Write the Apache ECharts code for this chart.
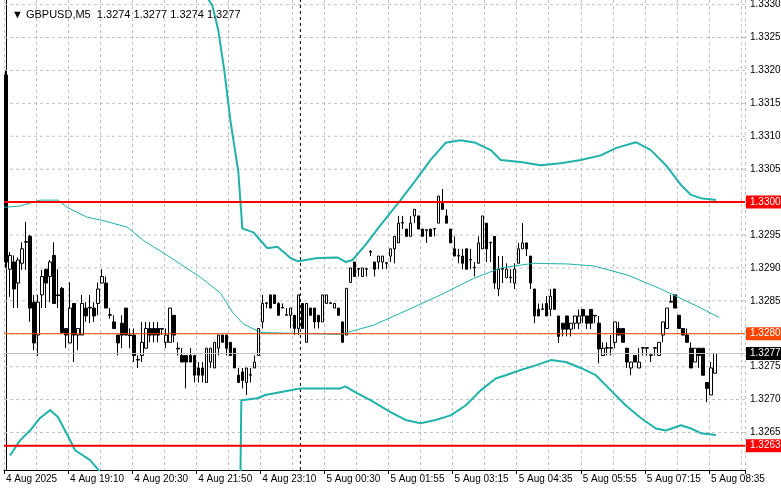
<!DOCTYPE html>
<html><head><meta charset="utf-8">
<script src="https://cdn.jsdelivr.net/npm/echarts@6/dist/echarts.min.js"></script>
<style>html,body{margin:0;padding:0;background:#fff}#c{width:781px;height:489px}</style>
</head><body><div id="c"></div>
<script>
// Candles: [open, close, low, high]
const candles = [
[1.33193,1.32909,1.32900,1.33200],[1.32898,1.32919,1.32856,1.32924],[1.32909,1.32868,1.32839,1.32919],[1.32877,1.32912,1.32839,1.32916],
[1.32907,1.32929,1.32897,1.32939],[1.32939,1.32940,1.32897,1.32970],[1.32948,1.32839,1.32818,1.32950],[1.32848,1.32786,1.32775,1.32859],
[1.32798,1.32848,1.32766,1.32859],[1.32859,1.32887,1.32839,1.32897],[1.32898,1.32877,1.32839,1.32898],[1.32887,1.32909,1.32848,1.32912],
[1.32919,1.32846,1.32846,1.32939],[1.32859,1.32858,1.32839,1.32898],[1.32869,1.32802,1.32800,1.32871],[1.32808,1.32798,1.32778,1.32808],
[1.32786,1.32839,1.32786,1.32878],[1.32846,1.32798,1.32757,1.32846],[1.32798,1.32808,1.32775,1.32808],[1.32798,1.32846,1.32798,1.32859],
[1.32839,1.32827,1.32818,1.32848],[1.32839,1.32840,1.32816,1.32859],[1.32839,1.32827,1.32818,1.32848],[1.32846,1.32868,1.32828,1.32878],
[1.32877,1.32887,1.32877,1.32898],[1.32877,1.32839,1.32839,1.32887],[1.32828,1.32829,1.32823,1.32839],[1.32818,1.32808,1.32808,1.32828],
[1.32798,1.32786,1.32767,1.32798],[1.32816,1.32798,1.32778,1.32828],[1.32839,1.32798,1.32798,1.32839],[1.32798,1.32797,1.32778,1.32808],
[1.32798,1.32767,1.32757,1.32808],[1.32760,1.32761,1.32748,1.32767],[1.32767,1.32787,1.32757,1.32818],[1.32778,1.32808,1.32778,1.32818],
[1.32808,1.32798,1.32787,1.32818],[1.32808,1.32798,1.32787,1.32818],[1.32808,1.32798,1.32787,1.32818],[1.32808,1.32807,1.32798,1.32808],
[1.32787,1.32798,1.32778,1.32808],[1.32787,1.32839,1.32787,1.32839],[1.32828,1.32798,1.32787,1.32828],[1.32778,1.32777,1.32767,1.32787],
[1.32767,1.32757,1.32757,1.32778],[1.32767,1.32757,1.32717,1.32767],[1.32767,1.32757,1.32757,1.32778],[1.32767,1.32737,1.32726,1.32767],
[1.32748,1.32737,1.32726,1.32757],[1.32748,1.32737,1.32726,1.32757],[1.32726,1.32778,1.32726,1.32778],[1.32757,1.32778,1.32748,1.32778],
[1.32748,1.32787,1.32748,1.32787],[1.32778,1.32798,1.32767,1.32798],[1.32798,1.32787,1.32787,1.32798],[1.32798,1.32778,1.32767,1.32798],
[1.32787,1.32767,1.32767,1.32787],[1.32778,1.32748,1.32748,1.32778],[1.32737,1.32726,1.32726,1.32748],[1.32742,1.32729,1.32717,1.32748],
[1.32726,1.32748,1.32707,1.32748],[1.32737,1.32738,1.32726,1.32748],[1.32748,1.32757,1.32748,1.32767],[1.32767,1.32808,1.32767,1.32808],
[1.32818,1.32846,1.32808,1.32859],[1.32846,1.32847,1.32839,1.32848],[1.32859,1.32839,1.32839,1.32859],[1.32859,1.32846,1.32846,1.32859],
[1.32846,1.32828,1.32828,1.32848],[1.32839,1.32840,1.32839,1.32846],[1.32828,1.32829,1.32828,1.32839],[1.32828,1.32839,1.32808,1.32839],
[1.32828,1.32808,1.32798,1.32828],[1.32808,1.32859,1.32798,1.32859],[1.32846,1.32808,1.32808,1.32846],[1.32787,1.32846,1.32787,1.32846],
[1.32839,1.32828,1.32828,1.32839],[1.32839,1.32818,1.32808,1.32839],[1.32828,1.32818,1.32808,1.32828],[1.32818,1.32859,1.32818,1.32859],
[1.32846,1.32859,1.32846,1.32859],[1.32846,1.32847,1.32846,1.32848],[1.32839,1.32846,1.32839,1.32846],[1.32839,1.32828,1.32828,1.32839],
[1.32818,1.32787,1.32787,1.32818],[1.32798,1.32869,1.32798,1.32869],[1.32878,1.32900,1.32878,1.32900],[1.32909,1.32887,1.32887,1.32909],
[1.32898,1.32899,1.32887,1.32898],[1.32887,1.32900,1.32887,1.32900],[1.32898,1.32899,1.32887,1.32900],[1.32924,1.32925,1.32918,1.32927],
[1.32909,1.32898,1.32887,1.32909],[1.32909,1.32918,1.32898,1.32918],[1.32909,1.32918,1.32898,1.32918],[1.32907,1.32908,1.32898,1.32907],
[1.32918,1.32929,1.32909,1.32929],[1.32929,1.32948,1.32907,1.32948],[1.32938,1.32968,1.32938,1.32979],[1.32968,1.32969,1.32959,1.32979],
[1.32959,1.32948,1.32948,1.32959],[1.32948,1.32968,1.32948,1.32979],[1.32979,1.32989,1.32968,1.32989],[1.32979,1.32959,1.32959,1.32979],
[1.32959,1.32948,1.32948,1.32959],[1.32957,1.32958,1.32938,1.32958],[1.32959,1.32948,1.32948,1.32959],[1.32959,1.32960,1.32948,1.32960],
[1.32968,1.33009,1.32968,1.33009],[1.32998,1.32989,1.32989,1.33020],[1.32979,1.32968,1.32968,1.32989],[1.32959,1.32938,1.32938,1.32959],
[1.32929,1.32918,1.32918,1.32948],[1.32918,1.32919,1.32907,1.32929],[1.32918,1.32907,1.32898,1.32929],[1.32929,1.32898,1.32898,1.32929],
[1.32912,1.32913,1.32898,1.32929],[1.32900,1.32901,1.32887,1.32909],[1.32907,1.32938,1.32907,1.32948],[1.32929,1.32979,1.32929,1.32979],
[1.32968,1.32929,1.32909,1.32968],[1.32938,1.32939,1.32909,1.32939],[1.32948,1.32877,1.32868,1.32948],[1.32868,1.32898,1.32857,1.32918],
[1.32898,1.32899,1.32877,1.32918],[1.32885,1.32898,1.32885,1.32907],[1.32885,1.32886,1.32877,1.32898],[1.32877,1.32898,1.32868,1.32907],
[1.32907,1.32929,1.32907,1.32938],[1.32929,1.32938,1.32929,1.32968],[1.32938,1.32929,1.32918,1.32938],[1.32918,1.32877,1.32868,1.32918],
[1.32868,1.32827,1.32816,1.32868],[1.32837,1.32827,1.32827,1.32846],[1.32837,1.32838,1.32837,1.32846],[1.32846,1.32827,1.32827,1.32857],
[1.32837,1.32857,1.32827,1.32868],[1.32868,1.32837,1.32837,1.32868],[1.32827,1.32796,1.32786,1.32827],[1.32816,1.32807,1.32796,1.32816],
[1.32827,1.32807,1.32796,1.32827],[1.32807,1.32816,1.32796,1.32816],[1.32816,1.32827,1.32807,1.32827],[1.32816,1.32827,1.32807,1.32837],
[1.32837,1.32827,1.32816,1.32837],[1.32827,1.32816,1.32807,1.32827],[1.32837,1.32816,1.32807,1.32837],[1.32827,1.32828,1.32816,1.32828],
[1.32816,1.32777,1.32755,1.32827],[1.32767,1.32778,1.32767,1.32787],[1.32778,1.32779,1.32767,1.32787],[1.32778,1.32779,1.32767,1.32798],
[1.32787,1.32818,1.32778,1.32818],[1.32808,1.32798,1.32798,1.32818],[1.32808,1.32787,1.32787,1.32808],[1.32778,1.32757,1.32748,1.32778],
[1.32748,1.32757,1.32737,1.32757],[1.32767,1.32757,1.32757,1.32767],[1.32748,1.32757,1.32748,1.32778],[1.32778,1.32779,1.32767,1.32779],
[1.32778,1.32779,1.32767,1.32779],[1.32767,1.32768,1.32757,1.32768],[1.32778,1.32779,1.32767,1.32779],[1.32767,1.32787,1.32767,1.32787],
[1.32798,1.32818,1.32787,1.32818],[1.32808,1.32839,1.32808,1.32839],[1.32848,1.32849,1.32848,1.32859],[1.32859,1.32839,1.32839,1.32859],
[1.32828,1.32808,1.32808,1.32828],[1.32808,1.32798,1.32798,1.32808],[1.32798,1.32787,1.32787,1.32808],[1.32778,1.32748,1.32748,1.32787],
[1.32757,1.32778,1.32757,1.32778],[1.32778,1.32767,1.32748,1.32778],[1.32778,1.32737,1.32737,1.32778],[1.32726,1.32717,1.32696,1.32726],
[1.32707,1.32748,1.32707,1.32757],[1.32740,1.32770,1.32740,1.32770]
];
const slots = 185;
const timeLabels = ['4 Aug 2025','4 Aug 19:10','4 Aug 20:30','4 Aug 21:50','4 Aug 23:10','5 Aug 00:30','5 Aug 01:55','5 Aug 03:15','5 Aug 04:35','5 Aug 05:55','5 Aug 07:15','5 Aug 08:35'];
const priceTicks = [1.3265,1.3270,1.3275,1.3280,1.3285,1.3290,1.3295,1.3300,1.3305,1.3310,1.3315,1.3320,1.3325,1.3330];
const upperBand = [[49.75,1.33315],[51.5,1.33299],[53,1.33261],[54.5,1.33200],[56,1.33125],[58,1.33046],[59,1.32960],[61.75,1.32954],[63.5,1.32942],[65.25,1.32930],[67.75,1.32932],[69.75,1.32922],[71,1.32915],[73,1.32910],[77.75,1.32915],[82.75,1.32916],[84.75,1.32909],[86.5,1.32912],[89.75,1.32935],[93.5,1.32965],[98.5,1.33003],[102.25,1.33033],[106,1.33064],[109.75,1.33090],[113.5,1.33094],[117.25,1.33090],[121,1.33079],[123.5,1.33064],[128.5,1.33061],[133.5,1.33056],[138.5,1.33059],[143.5,1.33064],[148.5,1.33071],[152.25,1.33082],[157.25,1.33091],[161,1.33079],[164.75,1.33056],[168.5,1.33026],[171,1.33011],[173.5,1.33006],[177.25,1.33003]];
const middleBand = [[-0.5,1.32992],[3.5,1.32994],[8.5,1.33003],[13,1.33003],[15.25,1.32992],[20.25,1.32977],[23.5,1.32973],[30.25,1.32962],[34.25,1.32942],[40.25,1.32919],[48.5,1.32886],[53.5,1.32862],[56.75,1.32831],[59.25,1.32815],[63.5,1.32802],[69.25,1.32801],[83.5,1.32799],[91.75,1.32813],[100.25,1.32836],[108.5,1.32859],[116.75,1.32884],[123.5,1.32900],[131.75,1.32907],[140.25,1.32906],[146.75,1.32903],[155.25,1.32889],[163.5,1.32868],[173.5,1.32839],[178,1.32825]];
const lowerBandA = [[1,1.32615],[3.5,1.32638],[6,1.32653],[8.5,1.32672],[11,1.32684],[13,1.32673],[15,1.32650],[17.25,1.32623],[21,1.32608],[23.5,1.32590]];
const lowerBandB = [[58.5,1.32570],[58.75,1.32699],[62.75,1.32702],[64.75,1.32707],[71,1.32714],[73.5,1.32717],[83.5,1.32717],[84.75,1.32720],[87.25,1.32711],[91,1.32699],[96,1.32681],[99.75,1.32669],[103.5,1.32664],[107.25,1.32669],[111,1.32676],[114.75,1.32691],[118.5,1.32714],[122.25,1.32732],[124.75,1.32737],[128.5,1.32745],[132.25,1.32752],[136,1.32760],[139.75,1.32757],[143.5,1.32748],[147.25,1.32737],[151,1.32714],[154.75,1.32691],[158.5,1.32672],[162.25,1.32656],[164.75,1.32653],[168.5,1.32661],[171,1.32656],[173.5,1.32649],[177.25,1.32646]];
const levelValues = [1.3277, 1.3280, 1.3300, 1.3263];
const levelColors = ['#000', '#ff4500', '#ff0000', '#ff0000'];
const separatorAt = 73.5;

const cats = [];
for (let i = 0; i < slots; i++) cats.push(i % 16 === 0 && timeLabels[i/16] ? timeLabels[i/16] : '');
const font = 'Liberation Sans';
const teal = '#20b2aa';
const x0 = -0.5, x1 = slots - 0.5;
const gridSeries = priceTicks.map(v => ({type:'line', xAxisIndex:1, silent:true, z:0,
  data:[[x0, v],[x1, v]], showSymbol:false, symbol:'none',
  lineStyle:{color:'#c0c0c0', type:[3,3], width:1},
  endLabel:{show:true, formatter: v.toFixed(4), color:'#000', fontSize:10, fontFamily:font, distance:5}}));
const levelSeries = levelValues.map((v, k) => ({type:'line', xAxisIndex:1, silent:true, z: 5 + k,
  data:[[x0, v],[x1, v]], showSymbol:false, symbol:'none',
  lineStyle:{color: k === 0 ? '#c0c0c0' : levelColors[k], width: k >= 2 ? 2 : 1, type:'solid'},
  endLabel:{show:true, formatter: v.toFixed(4), color:'#fff', backgroundColor: levelColors[k],
    padding:[2,3,1,4], fontSize:10, fontFamily:font, distance:1}}));
const chart = echarts.init(document.getElementById('c'));
chart.setOption({
  animation:false,
  backgroundColor:'#fff',
  title:{text:'▼ GBPUSD,M5  1.3274 1.3277 1.3274 1.3277', left:7, top:4,
    textStyle:{fontSize:11, fontWeight:'normal', color:'#000', fontFamily:font}},
  grid:{left:4, right:36, top:0, bottom:19, containLabel:false},
  xAxis:[
    {type:'category', data:cats, boundaryGap:true,
      axisLine:{show:true, lineStyle:{color:'#000'}},
      axisTick:{show:true, interval:15, length:4, lineStyle:{color:'#000'}},
      axisLabel:{interval:15, align:'left', margin:4, color:'#000', fontSize:10, fontFamily:font},
      splitLine:{show:true, interval:7, lineStyle:{color:'#c0c0c0', type:[3,3]}}},
    {type:'value', min:x0, max:x1, show:false}
  ],
  yAxis:{type:'value', position:'right', min:1.32593, max:1.33307, scale:true,
    axisLine:{show:true, lineStyle:{color:'#000'}},
    axisTick:{show:false}, axisLabel:{show:false}, splitLine:{show:false}},
  series:[
    ...gridSeries,
    {type:'candlestick', data:candles, barWidth:3, z:3,
      itemStyle:{color:'#fff', color0:'#000', borderColor:'#000', borderColor0:'#000', borderWidth:1}},
    ...levelSeries,
    {type:'line', xAxisIndex:1, data:[[separatorAt,1.32593],[separatorAt,1.33307]], showSymbol:false, symbol:'none', silent:true, z:2,
      lineStyle:{color:'#000', type:[3,3], width:1}},
    {type:'line', xAxisIndex:1, data:middleBand, showSymbol:false, symbol:'none', lineStyle:{color:teal, width:1}, z:4},
    {type:'line', xAxisIndex:1, data:upperBand, showSymbol:false, symbol:'none', lineStyle:{color:teal, width:2}, z:4},
    {type:'line', xAxisIndex:1, data:lowerBandA, showSymbol:false, symbol:'none', lineStyle:{color:teal, width:2}, z:4},
    {type:'line', xAxisIndex:1, data:lowerBandB, showSymbol:false, symbol:'none', lineStyle:{color:teal, width:2}, z:4}
  ]
});
</script></body></html>
